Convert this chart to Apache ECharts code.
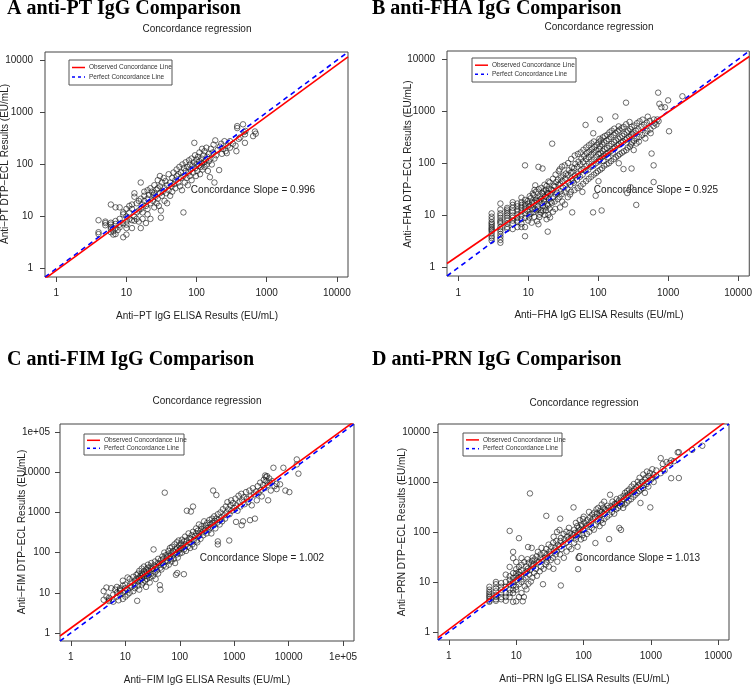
<!DOCTYPE html>
<html><head><meta charset="utf-8">
<script src="https://cdn.jsdelivr.net/npm/echarts@6/dist/echarts.min.js"></script>
<style>html,body{margin:0;padding:0;background:#fff}#c{width:755px;height:686px}</style>
</head><body><div id="c"></div>
<script>
// ---------- text ----------
const panelHeadings = ['A anti-PT IgG Comparison','B anti-FHA IgG Comparison','C anti-FIM IgG Comparison','D anti-PRN IgG Comparison'];
const panelTitle = 'Concordance regression';
const xAxisTitles = ['Anti\u2212PT IgG ELISA Results (EU/mL)','Anti\u2212FHA IgG ELISA Results (EU/mL)','Anti\u2212FIM IgG ELISA Results (EU/mL)','Anti\u2212PRN IgG ELISA Results (EU/mL)'];
const yAxisTitles = ['Anti\u2212PT DTP\u2212ECL Results (EU/mL)','Anti\u2212FHA DTP\u2212ECL Results (EU/mL)','Anti\u2212FIM DTP\u2212ECL Results (EU/mL)','Anti\u2212PRN DTP\u2212ECL Results (EU/mL)'];
const slopeLabels = ['Concordance Slope = 0.996','Concordance Slope = 0.925','Concordance Slope = 1.002','Concordance Slope = 1.013'];
const legendNames = ['Observed Concordance Line','Perfect Concordance Line'];

// ---------- axes ----------
const tickValues4 = [1,10,100,1000,10000];
const tickValues5 = [1,10,100,1000,10000,100000];
const range4 = [0.69, 14450];
const range5 = [0.631, 158489];

// ---------- data (ELISA, DTP-ECL) ----------
const ptPairs = [
[4,8.5],[4,5],[4,4.6],[5,7.5],[5,6.8],[5,8],[6,7],[6,6.3],[6,5.8],[6,5],[6,17],[6,7.6],[6.5,4.5],[6.5,5.2],[7,15],[7,6],[7,7.2],[7,8.2],[7,4.6],[7.5,5.5],[8,6.2],[8,7],[8,9],[8,15],[9,4],[9,7.5],[9,11],[9,12],[10,4.5],[10,8],[10,10],[10,14],[10,7],[10,6],
[11,16],[11,9],[11,12],[12,6],[12,8.5],[12,14],[12,17],[13,28],[13,24],[13,10],[13,8.3],[14,12],[14,9],[14,18],[15,13],[15,8],[15,20],[16,45],[16,6],[16,14],[16,22],[17,17],[17,9],[17,12],[18,25],[18,30],[18,20],[19,7.5],[19,16],[20,32],[20,22],[20,14],[20,11],[21,26],[22,18],[22,9],[22,35],[23,30],[24,20],[24,26],[25,40],[25,15],[25,28],[26,24],[27,33],[27,18],[28,50],[28,35],[28,22],[29,16],[30,60],[30,28],[30,38],[31,9.5],[31,13],[32,45],[32,25],[33,30],[34,55],[35,20],[35,35],[36,48],[37,28],[38,40],[38,18],[40,65],[40,32],[42,45],[42,25],[44,38],[45,55],[45,30],[47,70],[48,42],[50,50],[50,35],
[52,80],[52,60],[55,45],[55,65],[57,90],[58,38],[60,70],[60,55],[62,32],[63,100],[65,12],[65,60],[66,85],[68,45],[70,75],[70,110],[72,55],[74,90],[75,40],[77,70],[78,120],[80,100],[80,60],[82,80],[85,130],[85,50],[88,95],[90,70],[92,110],[93,260],[95,150],[96,85],[98,60],[100,100],[100,125],[102,75],[105,140],[108,95],[110,170],[110,115],[112,65],[115,90],[118,130],[120,200],[120,105],[122,80],[125,150],[128,110],[130,180],[130,90],[135,120],[138,210],[140,100],[142,140],[145,75],[150,160],[150,115],[155,57],[158,130],[160,200],[165,100],[170,170],[175,240],[180,45],[180,130],[185,290],[190,150],[200,190],[210,78],[215,220],[225,250],[230,160],[240,200],[250,280],[260,180],[270,165],[280,230],[300,280],[300,210],[330,250],[360,230],[370,180],[380,545],[380,500],[400,310],[420,330],[460,590],[475,420],[490,380],[490,260],[500,440],[640,350],[680,430],[700,390]
];
const fhaPairs = [
[3,3.3],[3,3.7],[3,4],[3,4.5],[3,5],[3,5.3],[3,5.6],[3,6],[3,6.5],[3,7],[3,7.5],[3,8.5],[3,9.5],[3,11],
[4,3],[4,3.4],[4,3.9],[4,4.4],[4,5],[4,5.5],[4,6],[4,7],[4,7.5],[4,8],[4,9],[4,10],[4,11],[4,13],[4,17],
[5,5.5],[5,6],[5,7],[5,8],[5,9],[5,10],[5,11],[5,12],[5,13],[5,14],
[6,5.5],[6,7],[6,8],[6,9],[6,10],[6,12],[6,14],[6,16],[6,18],
[7,6],[7,8],[7,9],[7,10.5],[7,12],[7,13],[7,15],[7,17],[7,7.5],
[8,6],[8,7],[8,8.5],[8,10],[8,12],[8,14],[8,16],[8,18],[8,22],
[9,4],[9,6],[9,9],[9,11],[9,13],[9,15],[9,17],[9,20],[9,92],
[10,8],[10.4,10.5],[9.7,12.3],[10.2,14.6],[10,16.8],[9.8,19],[10.5,23.5],[10.3,9.2],
[11.2,7.3],[10.8,10.8],[11.5,13.4],[11,15.7],[11.3,18.2],[10.9,21.5],[11.6,26.5],
[12.2,9.4],[11.8,11.5],[12.5,13.2],[12.1,17.5],[12.7,19.8],[11.9,24.6],[12.3,31],[12.6,38],
[13.4,7.8],[13,12.6],[13.7,14.7],[13.2,18.9],[13.5,21.6],[12.9,28.5],
[14,6.8],[14.5,10.4],[13.8,13.6],[14.3,19.4],[14.7,23.3],[14.1,32],[14,86],[14.4,9.3],
[15.3,11.4],[15,12.7],[15.6,17.6],[15.1,20.6],[15.8,27.4],[15.4,34],
[16,80],[16.4,12.4],[16.2,15.5],[16.8,20.5],[16.1,25.6],[16.6,29.4],
[17.2,10.3],[17.6,14.3],[17,18.8],[17.4,23.2],[17.8,31],[17.1,39],
[18.3,8.5],[18,12.5],[18.6,16.4],[18.1,22.8],[18.8,27.1],[18.4,37],
[19,4.9],[19.4,10.3],[19.2,15.6],[19.7,20.3],[19.3,26.8],[19.8,32.4],[19.5,45],
[20.5,9.2],[20.1,13.6],[21,18.4],[20.7,25.7],[21.3,31.5],[20.3,43],
[22,240],[22.5,11.8],[21.8,17.5],[22.8,22.6],[22.2,30.6],[23.2,37.5],[22.6,51],
[24.3,13.4],[23.8,18.6],[24.8,25.3],[24.1,35.8],[25.2,44],[24.6,61],
[26.4,20.6],[26,27.3],[27,38.8],[26.6,49],[27.3,71],
[28.5,14.3],[28,22.7],[29.2,29.4],[28.7,41],[29.5,54],[28.2,77],
[30.6,18.5],[30.2,25.7],[31.4,34.2],[30.9,46],[31.8,59],[30.4,87],
[33.5,16.3],[33,28.7],[34.2,37.4],[33.8,51],[34.6,64],[33.2,92],
[36.8,22.5],[36.2,32.8],[37.6,43],[36.5,59],[38,74],[37.2,102],
[40.8,28.6],[40,38.6],[41.5,51],[40.4,66],[42,84],[41.1,122],[39.6,25.4],
[42.5,11.5],[43.2,45.8],[42.8,69],
[45.8,30.7],[45,42.7],[46.6,59],[45.4,81],[47.2,98],[46.2,142],
[50.8,33.6],[50,48.9],[51.6,64],[50.4,86],[52.3,108],[51.2,152],
[55.9,36.7],[55,55.8],[56.7,74],[55.4,96],[57.5,123],[56.2,163],
[61,40.7],[60,61],[62,79],[60.6,107],[63,138],[61.6,183],[59.5,28.4],
[66,550],[67,45.8],[66.4,71],[68,89],[66.9,122],[68.6,158],[67.5,203],
[73,50.8],[72.2,76],[74,99],[72.8,132],[74.8,168],[73.5,223],
[79.5,55.6],[78.5,86],[80.5,109],[79,147],[81.5,188],[80,243],
[85,380],[84.5,11.5],[86.5,61],[85.5,91],[87.5,119],[86,162],[88,207],[86.8,264],
[92,24],[93.5,66],[92.6,101],[94.5,133],[93,177],[95,227],
[101,45.6],[99,71],[102.5,109],[100.5,152],[103.5,188],[101.5,253],[104,297],
[106,700],[107,76],[105.5,121],[108,158],[106.5,213],[109,276],
[112,12.5],[114,81],[113,131],[115.5,173],[114.5,233],[116,316],
[122,91],[120.5,142],[123.5,188],[121.5,253],[124.5,336],[119,111],
[132,96],[130.5,152],[134,198],[131.5,273],[135,356],
[142,101],[140.5,162],[144,218],[141.5,293],[145,396],[139,131],
[152.5,111],[150.5,172],[155,237],[151.5,323],[156,426],
[167.5,121],[164.5,192],[169,257],[166,353],[170,466],[162,161],
[176,800],[178.5,131],[174,202],[180,277],[176.5,384],
[192.5,141],[188.5,222],[194.5,297],[190.5,414],[196,515],
[203,151],[199,232],[206,317],[201,444],[197,101],
[218,161],[213,252],[221,337],[216,474],
[230,78],[233,171],[228,262],[236,367],[231,505],
[250,1470],[253,181],[247,282],[256,396],[251,566],
[260,27],[264,202],[258,303],[267,427],
[284,211],[278,323],[287,456],[281,626],
[290,35],[294,232],[297,347],
[300,80],[305,252],[309,366],[302,505],
[325,272],[318,394],[329,535],[322,181],
[350,16],[355,302],[346,424],[359,594],[352,242],
[386,322],[376,454],[390,644],[382,262],
[426,352],[416,505],[431,694],
[467,382],[455,555],[472,302],
[507,423],[495,606],[512,792],
[558,452],[544,656],[563,382],
[580,155],[620,92],[620,44],[620,520],[625,700],[640,600],[680,560],[700,700],
[720,2290],[730,650],[750,1400],[800,1200],[900,1200],[1000,1630],[1030,415],[1600,1950]
];
const fimPairs = [
[4,11],[4,6.7],[4.5,13.5],[4.5,8],[5,7.5],[5,6.8],[5,6.2],[5.5,13],[6,6],[6,9],[6.5,12],[7,8],[7,10],[7,14],[7.5,6.5],[8,13],[8,11],[8,9],[8,12],[9,7],[9,15],[9,10],[9,20],[10,11],[10,8],[10,13],[10,16],
[11,24],[11,12],[11,9],[12,10],[12,15],[12,22],[13,14],[13,18],[14,11],[14,25],[15,20],[15,16],[15,13],[16,28],[16.5,6.3],[16,22],[17,15],[17,30],[17,19],[18,24],[18,35],[18,12],[19,20],[19,26],[20,16],[20,30],[20,40],[20,23],[21,18],[21,28],[22,34],[22,45],[22,25],[23,20],[23,30],[24,38],[24,14],[25,26],[25,32],[25,22],[26,42],[26,50],[27,28],[27,35],[28,18],[28,24],[29,45],[30,30],[30,38],[30,55],
[32,26],[32,40],[33,120],[34,48],[35,32],[35,60],[36,22],[37,44],[38,36],[40,55],[40,70],[40,30],[42,50],[43,15.5],[44,12],[44,42],[45,65],[46,38],[48,80],[48,55],[50,48],[50,70],[52,100],[53,3100],[54,60],[55,85],[56,45],[58,75],[60,90],[60,62],[62,110],[63,50],[65,80],[66,130],[68,70],[70,95],[70,60],[72,140],[75,85],[75,110],[78,70],[80,160],[80,100],[82,55],[85,28],[85,120],[88,180],[88,90],[90,31],[90,130],[92,75],[95,200],[95,110],[98,150],[100,120],[100,95],
[105,170],[105,130],[110,210],[110,100],[115,150],[119,29],[120,190],[120,120],[125,250],[128,160],[130,110],[135,1100],[135,200],[140,140],[145,300],[150,180],[150,230],[155,130],[160,1050],[160,220],[165,270],[170,160],[175,1400],[175,330],[180,200],[185,140],[190,260],[200,300],[200,400],[205,200],[210,180],[215,350],[220,260],[225,500],[230,300],[240,220],[250,380],[250,450],[260,320],[270,270],[280,600],[280,400],[290,350],[300,480],[310,300],[320,550],[330,420],[340,360],[350,650],[360,500],[370,420],[380,300],[390,700],[400,550],[410,3500],[420,480],[430,800],[440,620],[450,400],[470,2700],[470,700],[490,560],[500,160],[500,190],[500,900],[520,650],[540,500],[560,1000],[580,750],[600,600],[620,1200],[650,850],[680,700],[700,1400],[720,1000],[750,1800],[780,1200],[810,200],[820,900],[850,1500],[880,2000],[900,1100],[950,1700],[1000,1300],
[1050,2200],[1080,580],[1100,1500],[1150,1100],[1200,2600],[1250,1800],[1300,1400],[1350,2900],[1370,480],[1400,2000],[1450,600],[1500,2400],[1550,1600],[1650,3200],[1700,2200],[1800,1800],[1900,3500],[1950,640],[2000,2500],[2100,1500],[2200,4000],[2300,2800],[2400,700],[2500,3300],[2600,2000],[2700,4500],[2800,3000],[3000,5500],[3100,3600],[3200,2500],[3400,4800],[3500,6500],[3600,4000],[3700,8300],[3800,7500],[3900,6000],[4000,8000],[4100,4800],[4200,2000],[4400,7000],[4500,5500],[4700,3500],[5000,6000],[5250,12900],[5500,4500],[6000,5150],[6000,3800],[6950,5000],[8000,12900],[8700,3500],[10300,3200],[14100,20800],[14100,15600],[15100,9200]
];
const prnPairs = [
[4,8],[4,7],[4,6.3],[4,5.8],[4,5.3],[4,5],[4,4.6],[4,4.2],[4,4],
[5,10],[5,9],[5,7.5],[5,6.5],[5,5.5],[5,5],[5,4.5],[5,4.2],
[6,8],[6,6],[6,5],[6,4.5],[6,9.5],[6,7],
[7,4.2],[7,6],[7,8],[7,10],[7,14],[7,5],
[8,105],[8,5],[8,7],[8,9],[8,11],[8,13],[8,20],[8,6],
[9,40],[9,4],[9,7],[9,8.5],[9,10],[9,12],[9,15],[9,30],[9,6],
[10,4.1],[10,8],[10,11],[10,13],[10,15],[10,18],[10,7],[10,25],
[11,75],[11,5],[11,9],[11,12],[11,14],[11,16],[11,20],
[12.5,4.1],[12,6],[12,10],[12,13],[12,17],[12,22],[12,30],
[13,5],[13.4,8.2],[12.8,11.3],[13.6,15.4],[13.2,25],
[14.2,7.1],[13.8,12.3],[14.5,16.2],[14.1,20.6],[14.7,28.5],
[15.2,9.2],[15.6,14.1],[14.9,18.4],[15.4,24.3],[15,50],
[16,590],[16.5,10.2],[16.2,17.3],[16.8,22.4],
[17,48],[17.4,12.2],[17.8,20.4],[17.2,26.5],[17.6,30.6],
[18.4,15.3],[18.1,22.5],[18.8,28.2],
[20.3,13.3],[19.7,18.2],[20.7,24.5],[20.1,32.6],[21,40],
[22.4,16.3],[21.8,25.4],[22.9,30.5],
[23.4,20.3],[23,35.6],[23.8,48],
[25,9],[25.5,18.3],[24.6,28.4],[26,38.5],
[27.4,22.3],[26.8,30.5],[27.9,45.6],
[28,210],[28.6,35.4],[28.3,25.3],
[30.6,20.3],[29.8,30.4],[31.2,40.6],[30.3,55.8],
[32.6,27.4],[32,36.5],[33.2,50.6],
[35.7,18.3],[35,30.5],[36.3,42.6],[35.4,60.8],[36,80],
[38.7,35.5],[38,48.6],[39.4,65.9],
[40.8,25.4],[40,40.6],[41.6,55.7],[40.4,100],
[44,110],[44.8,35.5],[43.6,50.7],[45.3,65.8],[45,185],
[46,8.5],[46.9,45.6],[46.3,75.9],
[51,30.4],[50,55.7],[52,70.8],[50.6,90.9],
[56,40.5],[55,60.8],[57,80.9],[55.6,101],
[61,50.6],[60,70.9],[62,95.8],[60.6,121],
[66,45.6],[65,75.9],[67,90.8],
[71,310],[72.4,60.7],[70.2,85.9],[73,111],
[76.5,70.8],[74.5,95.9],[77,152],
[81.5,50.6],[79,80.9],[82.5,101],[80.5,131],
[83,18],[84,30.5],
[86.5,90.9],[84.5,121],[87.5,172],
[91.5,70.9],[89.5,111],[93,141],
[96.5,86],[94.5,131],[98,182],
[102,75.9],[99,111],[103.5,152],[100.5,202],
[112,90.9],[108.5,131],[114,172],
[122,101],[118.5,141],[124,192],[120.5,252],
[132.5,121],[128.5,162],[134.5,222],
[142.5,111],[138,182],[145,243],
[150,60],[153,141],[148,202],[155.5,283],
[163,162],[158,232],[165.5,303],
[173,131],[168,192],[175.5,263],
[183,172],[178,222],[186,354],
[193,151],[188,253],[196,303],
[204,182],[198,232],[207,283],[202,404],
[224,202],[217,273],[227,334],
[240,72],[244,222],[236,303],[248,556],
[265,252],[257,323],[269,404],
[285,232],[277,303],[289,364],
[305,283],[296,354],[310,455],
[326,303],[316,384],
[340,120],[346,334],[335,425],
[360,110],[366,364],[355,485],
[387,303],[375,404],[392,526],
[407,354],[395,455],[413,606],
[438,384],[424,506],[444,657],
[468,425],[454,556],[475,708],
[509,455],[493,606],[516,810],
[550,506],[532,657],[557,910],
[590,556],[572,708],
[631,606],[612,788],[638,1010],
[672,657],[651,860],[679,1212],
[700,380],[712,708],[690,910],
[764,758],[740,1010],[771,1414],
[815,606],[790,860],[822,1111],
[866,910],[838,1212],[874,1616],
[917,808],[888,1010],[925,1313],
[980,310],[998,1111],[968,1515],
[1050,1200],[1050,1800],[1100,1000],[1100,1400],[1200,1300],[1200,1700],
[1400,3000],[1400,1500],[1500,1800],[1500,2300],[1600,1700],[1700,2500],[1900,2400],
[2000,1190],[2000,2700],[2200,2600],[2500,3900],[2600,3950],[2600,1200],[4100,4400],[5800,5300]
];
const panelData = [ptPairs, fhaPairs, fimPairs, prnPairs];

// regression line end points (ELISA, DTP-ECL)
const observedLines = [
  [[0.69,0.64],[14450,11700]],
  [[0.69,1.2],[14450,11330]],
  [[0.631,0.84],[158489,181000]],
  [[0.69,0.77],[14450,18070]]
];
const perfectLines = [
  [[0.69,0.69],[14450,14450]],
  [[0.69,0.69],[14450,14450]],
  [[0.631,0.631],[158489,158489]],
  [[0.69,0.69],[14450,14450]]
];

// ---------- layout ----------
const grids = [
  {left:45, top:52, width:303, height:225},
  {left:447, top:51, width:305, height:225},
  {left:60, top:424, width:294, height:217},
  {left:438, top:424, width:291, height:216}
];
const headingPos = [[7,8.5],[372,8.5],[7,359.5],[372,359.5]];
const titlePos = [[197,29],[599,27.5],[207,401.5],[584,403]];
const slopePos = [[253,190],[656,190],[262,558],[638,558]];
const xTitlePos = [[197,316],[599,315.5],[207,680],[584.5,679]];
const yTitlePos = [[5.5,164],[408,164],[22,532],[402,532]];
const legendBox = [[69,60,103,25],[472,58,104,24],[84,434,100,21],[463,433,99,23]];
const yLabelMargin = [12,12,10,8];
const xLabelMargin = [11,12,11,11];

const txt = '#222';
const fnt = '"Liberation Sans", Arial, sans-serif';
const fmt = v => (Math.abs(v-100000)<1 ? '1e+05' : String(Math.round(v)));

const option = {
  animation:false,
  backgroundColor:'#fff',
  grid: grids.map(g => Object.assign({show:true, borderColor:'#444', borderWidth:1, backgroundColor:'transparent'}, g)),
  xAxis: grids.map((g,i) => {
    const r = i===2 ? range5 : range4;
    const tv = i===2 ? tickValues5 : tickValues4;
    return {
      type:'log', logBase:10, gridIndex:i, min:r[0], max:r[1],
      axisLine:{show:false},
      axisTick:{show:true, inside:false, length:5, customValues:tv, lineStyle:{color:'#444'}},
      axisLabel:{color:txt, fontSize:10, fontFamily:fnt, margin:xLabelMargin[i], customValues:tv, formatter:fmt},
      splitLine:{show:false}, minorTick:{show:false}
    };
  }),
  yAxis: grids.map((g,i) => {
    const r = i===2 ? range5 : range4;
    const tv = i===2 ? tickValues5 : tickValues4;
    return {
      type:'log', logBase:10, gridIndex:i, min:r[0], max:r[1],
      axisLine:{show:false},
      axisTick:{show:true, inside:false, length:5, customValues:tv, lineStyle:{color:'#444'}},
      axisLabel:{color:txt, fontSize:10, fontFamily:fnt, margin:yLabelMargin[i], customValues:tv, formatter:fmt},
      splitLine:{show:false}
    };
  }),
  series: [],
  graphic: []
};

panelData.forEach((d,i) => {
  option.series.push({
    type:'scatter', xAxisIndex:i, yAxisIndex:i, data:d, symbol:'circle', symbolSize:5.5,
    itemStyle:{color:'rgba(0,0,0,0)', borderColor:'#1a1a1a', borderWidth:0.8}, z:2
  });
  option.series.push({
    type:'line', xAxisIndex:i, yAxisIndex:i, data:perfectLines[i], symbol:'none', clip:true,
    lineStyle:{color:'#0000ff', width:1.6, type:[5,4]}, z:3
  });
  option.series.push({
    type:'line', xAxisIndex:i, yAxisIndex:i, data:observedLines[i], symbol:'none', clip:true,
    lineStyle:{color:'#ff0000', width:1.6}, z:4
  });
  option.graphic.push({type:'text', x:headingPos[i][0], y:headingPos[i][1],
    style:{text:panelHeadings[i], fill:'#000', font:'bold 20px "Liberation Serif", "Times New Roman", serif', textAlign:'left', textVerticalAlign:'middle'}});
  option.graphic.push({type:'text', x:titlePos[i][0], y:titlePos[i][1],
    style:{text:panelTitle, fill:txt, font:'10px '+fnt, textAlign:'center', textVerticalAlign:'middle'}});
  option.graphic.push({type:'text', x:xTitlePos[i][0], y:xTitlePos[i][1],
    style:{text:xAxisTitles[i], fill:txt, font:'10px '+fnt, textAlign:'center', textVerticalAlign:'middle'}});
  option.graphic.push({type:'text', x:yTitlePos[i][0], y:yTitlePos[i][1], rotation:Math.PI/2,
    style:{text:yAxisTitles[i], fill:txt, font:'10px '+fnt, textAlign:'center', textVerticalAlign:'middle'}});
  option.graphic.push({type:'text', x:slopePos[i][0], y:slopePos[i][1], z:10,
    style:{text:slopeLabels[i], fill:txt, font:'10px '+fnt, textAlign:'center', textVerticalAlign:'middle'}});
  const [bx,by,bw,bh] = legendBox[i];
  const y1 = by + bh*0.30, y2 = by + bh*0.68;
  option.graphic.push({type:'rect', shape:{x:bx,y:by,width:bw,height:bh}, z:20,
    style:{fill:'#fff', stroke:'#555', lineWidth:1}});
  option.graphic.push({type:'line', shape:{x1:bx+3,y1:y1,x2:bx+16,y2:y1}, z:21, style:{stroke:'#ff0000', lineWidth:1.5}});
  option.graphic.push({type:'line', shape:{x1:bx+3,y1:y2,x2:bx+16,y2:y2}, z:21, style:{stroke:'#0000ff', lineWidth:1.5, lineDash:[3,3]}});
  option.graphic.push({type:'text', x:bx+20, y:y1, z:21, style:{text:legendNames[0], fill:'#333', font:'6.5px '+fnt, textVerticalAlign:'middle'}});
  option.graphic.push({type:'text', x:bx+20, y:y2, z:21, style:{text:legendNames[1], fill:'#333', font:'6.5px '+fnt, textVerticalAlign:'middle'}});
});

const chart = echarts.init(document.getElementById('c'), null, {renderer:'canvas'});
chart.setOption(option);
</script></body></html>
